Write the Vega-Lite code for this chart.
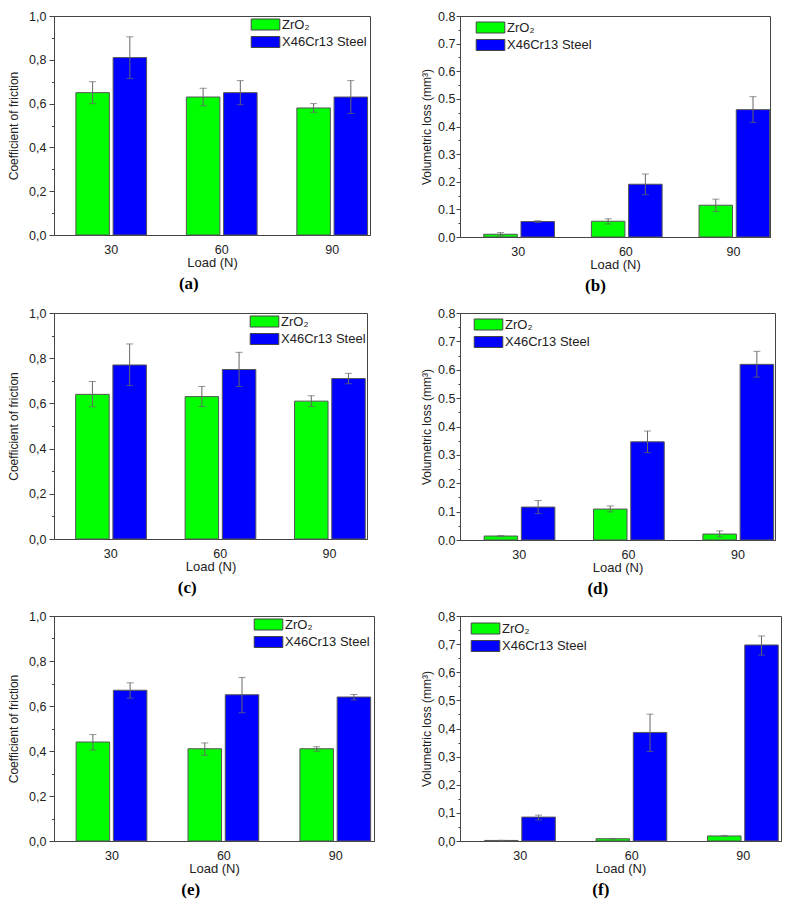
{
  "$schema": "https://vega.github.io/schema/vega-lite/v6.json",
  "padding": {"left": 7, "top": 9, "right": 5, "bottom": 5},
  "background": "white",
  "data": {"values": [
    {"panel": "a", "load": "30", "material": "ZrO₂", "value": 0.65, "lo": 0.60, "hi": 0.70},
    {"panel": "a", "load": "60", "material": "ZrO₂", "value": 0.63, "lo": 0.59, "hi": 0.67},
    {"panel": "a", "load": "90", "material": "ZrO₂", "value": 0.58, "lo": 0.56, "hi": 0.60},
    {"panel": "a", "load": "30", "material": "X46Cr13 Steel", "value": 0.81, "lo": 0.715, "hi": 0.905},
    {"panel": "a", "load": "60", "material": "X46Cr13 Steel", "value": 0.65, "lo": 0.595, "hi": 0.705},
    {"panel": "a", "load": "90", "material": "X46Cr13 Steel", "value": 0.63, "lo": 0.555, "hi": 0.705},
    {"panel": "b", "load": "30", "material": "ZrO₂", "value": 0.010, "lo": 0.004, "hi": 0.016},
    {"panel": "b", "load": "60", "material": "ZrO₂", "value": 0.057, "lo": 0.047, "hi": 0.066},
    {"panel": "b", "load": "90", "material": "ZrO₂", "value": 0.115, "lo": 0.092, "hi": 0.137},
    {"panel": "b", "load": "30", "material": "X46Cr13 Steel", "value": 0.056, "lo": 0.053, "hi": 0.059},
    {"panel": "b", "load": "60", "material": "X46Cr13 Steel", "value": 0.191, "lo": 0.153, "hi": 0.228},
    {"panel": "b", "load": "90", "material": "X46Cr13 Steel", "value": 0.461, "lo": 0.415, "hi": 0.508},
    {"panel": "c", "load": "30", "material": "ZrO₂", "value": 0.64, "lo": 0.585, "hi": 0.697},
    {"panel": "c", "load": "60", "material": "ZrO₂", "value": 0.63, "lo": 0.586, "hi": 0.675},
    {"panel": "c", "load": "90", "material": "ZrO₂", "value": 0.61, "lo": 0.586, "hi": 0.634},
    {"panel": "c", "load": "30", "material": "X46Cr13 Steel", "value": 0.77, "lo": 0.679, "hi": 0.863},
    {"panel": "c", "load": "60", "material": "X46Cr13 Steel", "value": 0.75, "lo": 0.675, "hi": 0.826},
    {"panel": "c", "load": "90", "material": "X46Cr13 Steel", "value": 0.71, "lo": 0.687, "hi": 0.733},
    {"panel": "d", "load": "30", "material": "ZrO₂", "value": 0.014, "lo": 0.012, "hi": 0.016},
    {"panel": "d", "load": "60", "material": "ZrO₂", "value": 0.109, "lo": 0.099, "hi": 0.120},
    {"panel": "d", "load": "90", "material": "ZrO₂", "value": 0.021, "lo": 0.011, "hi": 0.032},
    {"panel": "d", "load": "30", "material": "X46Cr13 Steel", "value": 0.116, "lo": 0.093, "hi": 0.139},
    {"panel": "d", "load": "60", "material": "X46Cr13 Steel", "value": 0.346, "lo": 0.308, "hi": 0.384},
    {"panel": "d", "load": "90", "material": "X46Cr13 Steel", "value": 0.619, "lo": 0.574, "hi": 0.665},
    {"panel": "e", "load": "30", "material": "ZrO₂", "value": 0.44, "lo": 0.404, "hi": 0.473},
    {"panel": "e", "load": "60", "material": "ZrO₂", "value": 0.41, "lo": 0.381, "hi": 0.436},
    {"panel": "e", "load": "90", "material": "ZrO₂", "value": 0.41, "lo": 0.399, "hi": 0.419},
    {"panel": "e", "load": "30", "material": "X46Cr13 Steel", "value": 0.67, "lo": 0.635, "hi": 0.703},
    {"panel": "e", "load": "60", "material": "X46Cr13 Steel", "value": 0.65, "lo": 0.570, "hi": 0.727},
    {"panel": "e", "load": "90", "material": "X46Cr13 Steel", "value": 0.64, "lo": 0.627, "hi": 0.651},
    {"panel": "f", "load": "30", "material": "ZrO₂", "value": 0.002, "lo": 0.0015, "hi": 0.0025},
    {"panel": "f", "load": "60", "material": "ZrO₂", "value": 0.008, "lo": 0.007, "hi": 0.009},
    {"panel": "f", "load": "90", "material": "ZrO₂", "value": 0.018, "lo": 0.016, "hi": 0.020},
    {"panel": "f", "load": "30", "material": "X46Cr13 Steel", "value": 0.085, "lo": 0.075, "hi": 0.092},
    {"panel": "f", "load": "60", "material": "X46Cr13 Steel", "value": 0.386, "lo": 0.318, "hi": 0.451},
    {"panel": "f", "load": "90", "material": "X46Cr13 Steel", "value": 0.697, "lo": 0.661, "hi": 0.729}
  ]},
  "columns": 2,
  "bounds": "flush",
  "spacing": {"row": 76, "column": 86},
  "resolve": {"scale": {"color": "independent"}, "legend": {"color": "independent"}},
  "concat": [
    {
      "title": "(a)",
      "width": 316, "height": 219,
      "transform": [{"filter": "datum.panel === 'a'"}],
      "resolve": {"axis": {"y": "independent"}},
      "encoding": {
        "x": {"field": "load", "type": "nominal", "sort": ["30", "60", "90"], "title": "Load (N)",
              "scale": {"paddingInner": 0.36, "paddingOuter": 0.11, "align": 0.9},
              "axis": {"labelAngle": 0, "ticks": false, "labelPadding": 8, "titlePadding": 1}},
        "xOffset": {"field": "material", "type": "nominal", "sort": ["ZrO₂", "X46Cr13 Steel"], "scale": {"paddingInner": 0.1}}
      },
      "layer": [
        {"mark": {"type": "bar", "stroke": "#555", "strokeWidth": 1},
         "encoding": {
           "y": {"field": "value", "type": "quantitative", "title": "Coefficient of friction",
                 "scale": {"domain": [0, 1], "nice": false},
                 "axis": {"values": [0, 0.1, 0.2, 0.3, 0.4, 0.5, 0.6, 0.7, 0.8, 0.9, 1.0],
                          "labelExpr": "round(datum.value*10)%2==0 ? replace(format(datum.value,'.1f'),'.',',') : ''",
                          "tickSize": {"condition": {"test": "round(datum.value*10)%2==0", "value": 5}, "value": 2.5},
                          "labelOverlap": false, "labelPadding": 3, "titlePadding": 8}},
           "color": {"field": "material", "type": "nominal", "sort": ["ZrO₂", "X46Cr13 Steel"],
                     "scale": {"domain": ["ZrO₂", "X46Cr13 Steel"], "range": ["#00ff00", "#0000ff"]},
                     "legend": {"legendX": 205, "legendY": 2}}
         }},
        {"mark": {"type": "rule", "color": "#666", "strokeWidth": 1},
         "encoding": {"y": {"field": "lo", "type": "quantitative", "axis": null}, "y2": {"field": "hi"}}},
        {"mark": {"type": "tick", "color": "#666", "size": 7, "thickness": 1},
         "encoding": {"y": {"field": "lo", "type": "quantitative", "axis": null}}},
        {"mark": {"type": "tick", "color": "#666", "size": 7, "thickness": 1},
         "encoding": {"y": {"field": "hi", "type": "quantitative", "axis": null}}}
      ]
    },
    {
      "title": "(b)",
      "width": 310, "height": 221,
      "transform": [{"filter": "datum.panel === 'b'"}],
      "resolve": {"axis": {"y": "independent"}},
      "encoding": {
        "x": {"field": "load", "type": "nominal", "sort": ["30", "60", "90"], "title": "Load (N)",
              "scale": {"paddingInner": 0.36, "paddingOuter": 0.12, "align": 0.92},
              "axis": {"labelAngle": 0, "ticks": false, "labelPadding": 8, "titlePadding": 1}},
        "xOffset": {"field": "material", "type": "nominal", "sort": ["ZrO₂", "X46Cr13 Steel"], "scale": {"paddingInner": 0.1}}
      },
      "layer": [
        {"mark": {"type": "bar", "stroke": "#555", "strokeWidth": 1},
         "encoding": {
           "y": {"field": "value", "type": "quantitative", "title": "Volumetric loss (mm³)",
                 "scale": {"domain": [0, 0.8], "nice": false},
                 "axis": {"values": [0, 0.05, 0.1, 0.15, 0.2, 0.25, 0.3, 0.35, 0.4, 0.45, 0.5, 0.55, 0.6, 0.65, 0.7, 0.75, 0.8],
                          "labelExpr": "round(datum.value*20)%2==0 ? format(datum.value,'.1f') : ''",
                          "tickSize": {"condition": {"test": "round(datum.value*20)%2==0", "value": 4}, "value": 2},
                          "labelOverlap": false, "labelPadding": 1, "titlePadding": 4}},
           "color": {"field": "material", "type": "nominal", "sort": ["ZrO₂", "X46Cr13 Steel"],
                     "scale": {"domain": ["ZrO₂", "X46Cr13 Steel"], "range": ["#00ff00", "#0000ff"]},
                     "legend": {"legendX": 24, "legendY": 5}}
         }},
        {"mark": {"type": "rule", "color": "#666", "strokeWidth": 1},
         "encoding": {"y": {"field": "lo", "type": "quantitative", "axis": null}, "y2": {"field": "hi"}}},
        {"mark": {"type": "tick", "color": "#666", "size": 7, "thickness": 1},
         "encoding": {"y": {"field": "lo", "type": "quantitative", "axis": null}}},
        {"mark": {"type": "tick", "color": "#666", "size": 7, "thickness": 1},
         "encoding": {"y": {"field": "hi", "type": "quantitative", "axis": null}}}
      ]
    },
    {
      "title": "(c)",
      "width": 313, "height": 226,
      "transform": [{"filter": "datum.panel === 'c'"}],
      "resolve": {"axis": {"y": "independent"}},
      "encoding": {
        "x": {"field": "load", "type": "nominal", "sort": ["30", "60", "90"], "title": "Load (N)",
              "scale": {"paddingInner": 0.36, "paddingOuter": 0.11, "align": 0.9},
              "axis": {"labelAngle": 0, "ticks": false, "labelPadding": 8, "titlePadding": 1}},
        "xOffset": {"field": "material", "type": "nominal", "sort": ["ZrO₂", "X46Cr13 Steel"], "scale": {"paddingInner": 0.1}}
      },
      "layer": [
        {"mark": {"type": "bar", "stroke": "#555", "strokeWidth": 1},
         "encoding": {
           "y": {"field": "value", "type": "quantitative", "title": "Coefficient of friction",
                 "scale": {"domain": [0, 1], "nice": false},
                 "axis": {"values": [0, 0.1, 0.2, 0.3, 0.4, 0.5, 0.6, 0.7, 0.8, 0.9, 1.0],
                          "labelExpr": "round(datum.value*10)%2==0 ? replace(format(datum.value,'.1f'),'.',',') : ''",
                          "tickSize": {"condition": {"test": "round(datum.value*10)%2==0", "value": 5}, "value": 2.5},
                          "labelOverlap": false, "labelPadding": 3, "titlePadding": 8}},
           "color": {"field": "material", "type": "nominal", "sort": ["ZrO₂", "X46Cr13 Steel"],
                     "scale": {"domain": ["ZrO₂", "X46Cr13 Steel"], "range": ["#00ff00", "#0000ff"]},
                     "legend": {"legendX": 204, "legendY": 2}}
         }},
        {"mark": {"type": "rule", "color": "#666", "strokeWidth": 1},
         "encoding": {"y": {"field": "lo", "type": "quantitative", "axis": null}, "y2": {"field": "hi"}}},
        {"mark": {"type": "tick", "color": "#666", "size": 7, "thickness": 1},
         "encoding": {"y": {"field": "lo", "type": "quantitative", "axis": null}}},
        {"mark": {"type": "tick", "color": "#666", "size": 7, "thickness": 1},
         "encoding": {"y": {"field": "hi", "type": "quantitative", "axis": null}}}
      ]
    },
    {
      "title": "(d)",
      "width": 315, "height": 227,
      "transform": [{"filter": "datum.panel === 'd'"}],
      "resolve": {"axis": {"y": "independent"}},
      "encoding": {
        "x": {"field": "load", "type": "nominal", "sort": ["30", "60", "90"], "title": "Load (N)",
              "scale": {"paddingInner": 0.36, "paddingOuter": 0.12, "align": 0.92},
              "axis": {"labelAngle": 0, "ticks": false, "labelPadding": 8, "titlePadding": 1}},
        "xOffset": {"field": "material", "type": "nominal", "sort": ["ZrO₂", "X46Cr13 Steel"], "scale": {"paddingInner": 0.1}}
      },
      "layer": [
        {"mark": {"type": "bar", "stroke": "#555", "strokeWidth": 1},
         "encoding": {
           "y": {"field": "value", "type": "quantitative", "title": "Volumetric loss (mm³)",
                 "scale": {"domain": [0, 0.8], "nice": false},
                 "axis": {"values": [0, 0.05, 0.1, 0.15, 0.2, 0.25, 0.3, 0.35, 0.4, 0.45, 0.5, 0.55, 0.6, 0.65, 0.7, 0.75, 0.8],
                          "labelExpr": "round(datum.value*20)%2==0 ? format(datum.value,'.1f') : ''",
                          "tickSize": {"condition": {"test": "round(datum.value*20)%2==0", "value": 4}, "value": 2},
                          "labelOverlap": false, "labelPadding": 1, "titlePadding": 4}},
           "color": {"field": "material", "type": "nominal", "sort": ["ZrO₂", "X46Cr13 Steel"],
                     "scale": {"domain": ["ZrO₂", "X46Cr13 Steel"], "range": ["#00ff00", "#0000ff"]},
                     "legend": {"legendX": 22, "legendY": 5}}
         }},
        {"mark": {"type": "rule", "color": "#666", "strokeWidth": 1},
         "encoding": {"y": {"field": "lo", "type": "quantitative", "axis": null}, "y2": {"field": "hi"}}},
        {"mark": {"type": "tick", "color": "#666", "size": 7, "thickness": 1},
         "encoding": {"y": {"field": "lo", "type": "quantitative", "axis": null}}},
        {"mark": {"type": "tick", "color": "#666", "size": 7, "thickness": 1},
         "encoding": {"y": {"field": "hi", "type": "quantitative", "axis": null}}}
      ]
    },
    {
      "title": "(e)",
      "width": 320, "height": 225,
      "transform": [{"filter": "datum.panel === 'e'"}],
      "resolve": {"axis": {"y": "independent"}},
      "encoding": {
        "x": {"field": "load", "type": "nominal", "sort": ["30", "60", "90"], "title": "Load (N)",
              "scale": {"paddingInner": 0.36, "paddingOuter": 0.11, "align": 0.9},
              "axis": {"labelAngle": 0, "ticks": false, "labelPadding": 8, "titlePadding": 1}},
        "xOffset": {"field": "material", "type": "nominal", "sort": ["ZrO₂", "X46Cr13 Steel"], "scale": {"paddingInner": 0.1}}
      },
      "layer": [
        {"mark": {"type": "bar", "stroke": "#555", "strokeWidth": 1},
         "encoding": {
           "y": {"field": "value", "type": "quantitative", "title": "Coefficient of friction",
                 "scale": {"domain": [0, 1], "nice": false},
                 "axis": {"values": [0, 0.1, 0.2, 0.3, 0.4, 0.5, 0.6, 0.7, 0.8, 0.9, 1.0],
                          "labelExpr": "round(datum.value*10)%2==0 ? replace(format(datum.value,'.1f'),'.',',') : ''",
                          "tickSize": {"condition": {"test": "round(datum.value*10)%2==0", "value": 5}, "value": 2.5},
                          "labelOverlap": false, "labelPadding": 3, "titlePadding": 8}},
           "color": {"field": "material", "type": "nominal", "sort": ["ZrO₂", "X46Cr13 Steel"],
                     "scale": {"domain": ["ZrO₂", "X46Cr13 Steel"], "range": ["#00ff00", "#0000ff"]},
                     "legend": {"legendX": 208, "legendY": 2}}
         }},
        {"mark": {"type": "rule", "color": "#666", "strokeWidth": 1},
         "encoding": {"y": {"field": "lo", "type": "quantitative", "axis": null}, "y2": {"field": "hi"}}},
        {"mark": {"type": "tick", "color": "#666", "size": 7, "thickness": 1},
         "encoding": {"y": {"field": "lo", "type": "quantitative", "axis": null}}},
        {"mark": {"type": "tick", "color": "#666", "size": 7, "thickness": 1},
         "encoding": {"y": {"field": "hi", "type": "quantitative", "axis": null}}}
      ]
    },
    {
      "title": "(f)",
      "width": 321, "height": 225,
      "transform": [{"filter": "datum.panel === 'f'"}],
      "resolve": {"axis": {"y": "independent"}},
      "encoding": {
        "x": {"field": "load", "type": "nominal", "sort": ["30", "60", "90"], "title": "Load (N)",
              "scale": {"paddingInner": 0.36, "paddingOuter": 0.12, "align": 0.92},
              "axis": {"labelAngle": 0, "ticks": false, "labelPadding": 8, "titlePadding": 1}},
        "xOffset": {"field": "material", "type": "nominal", "sort": ["ZrO₂", "X46Cr13 Steel"], "scale": {"paddingInner": 0.1}}
      },
      "layer": [
        {"mark": {"type": "bar", "stroke": "#555", "strokeWidth": 1},
         "encoding": {
           "y": {"field": "value", "type": "quantitative", "title": "Volumetric loss (mm³)",
                 "scale": {"domain": [0, 0.8], "nice": false},
                 "axis": {"values": [0, 0.05, 0.1, 0.15, 0.2, 0.25, 0.3, 0.35, 0.4, 0.45, 0.5, 0.55, 0.6, 0.65, 0.7, 0.75, 0.8],
                          "labelExpr": "round(datum.value*20)%2==0 ? replace(format(datum.value,'.1f'),'.',',') : ''",
                          "tickSize": {"condition": {"test": "round(datum.value*20)%2==0", "value": 4}, "value": 2},
                          "labelOverlap": false, "labelPadding": 1, "titlePadding": 4}},
           "color": {"field": "material", "type": "nominal", "sort": ["ZrO₂", "X46Cr13 Steel"],
                     "scale": {"domain": ["ZrO₂", "X46Cr13 Steel"], "range": ["#00ff00", "#0000ff"]},
                     "legend": {"legendX": 19, "legendY": 6}}
         }},
        {"mark": {"type": "rule", "color": "#666", "strokeWidth": 1},
         "encoding": {"y": {"field": "lo", "type": "quantitative", "axis": null}, "y2": {"field": "hi"}}},
        {"mark": {"type": "tick", "color": "#666", "size": 7, "thickness": 1},
         "encoding": {"y": {"field": "lo", "type": "quantitative", "axis": null}}},
        {"mark": {"type": "tick", "color": "#666", "size": 7, "thickness": 1},
         "encoding": {"y": {"field": "hi", "type": "quantitative", "axis": null}}}
      ]
    }
  ],
  "config": {
    "font": "Liberation Sans",
    "view": {"stroke": "#444", "strokeWidth": 1},
    "axis": {"domainColor": "#444", "tickColor": "#444", "labelColor": "#222", "titleColor": "#222",
             "labelFontSize": 12.5, "titleFontWeight": "normal", "grid": false,
             "labelFont": "Liberation Sans", "titleFont": "Liberation Sans"},
    "axisX": {"titleFontSize": 13},
    "axisY": {"titleFontSize": 12},
    "title": {"orient": "bottom", "font": "Liberation Serif", "fontSize": 17, "fontWeight": "bold",
              "color": "#000", "offset": 6, "anchor": "middle", "frame": "bounds"},
    "legend": {"orient": "none", "title": null, "symbolType": "M-2.6,-1H2.6V1H-2.6Z", "symbolSize": 121,
               "symbolStrokeColor": "#444", "symbolStrokeWidth": 1, "symbolOpacity": 1,
               "labelFontSize": 13, "labelColor": "#222", "labelOffset": 10, "rowPadding": 2.5,
               "labelFont": "Liberation Sans"}
  }
}
